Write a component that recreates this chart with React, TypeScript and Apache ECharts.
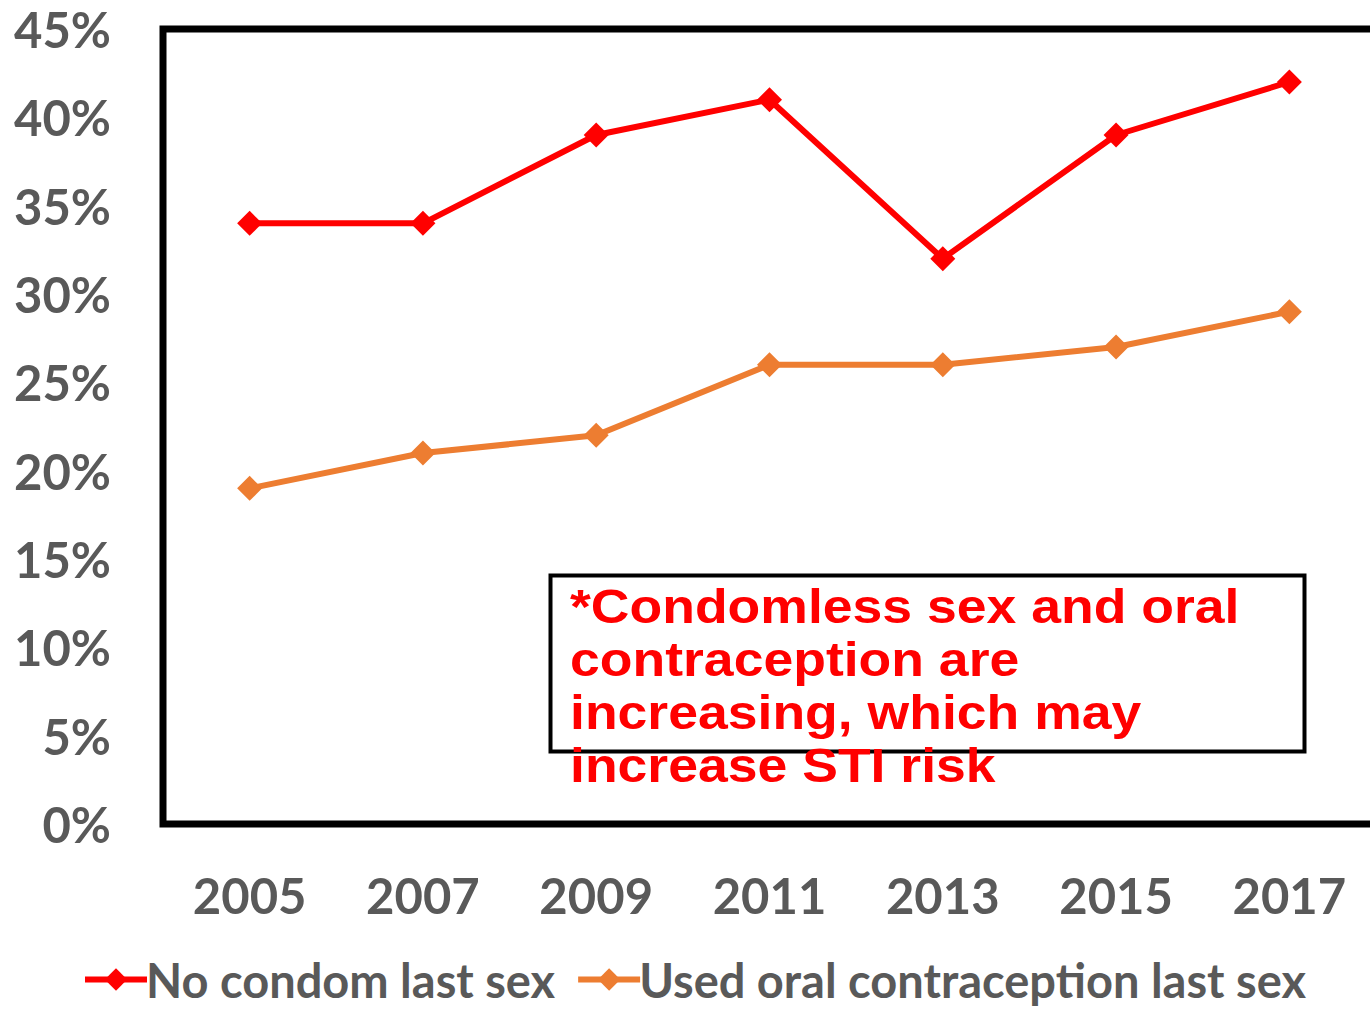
import React, { useEffect, useRef } from "react";
import * as echarts from "echarts";

const years = ["2005", "2007", "2009", "2011", "2013", "2015", "2017"];
const noCondom = [34, 34, 39, 41, 32, 39, 42];
const oralContraception = [19, 21, 22, 26, 26, 27, 29];
const seriesNames = ["No condom last sex", "Used oral contraception last sex"];
const noteLines = [
  "*Condomless sex and oral",
  "contraception are",
  "increasing, which may",
  "increase STI risk",
];

export default function App() {
  const ref = useRef<HTMLDivElement>(null);
  useEffect(() => {
    if (!ref.current) return;
    document.body.style.overflow = "hidden";
    const chart = echarts.init(ref.current, null, { renderer: "svg" });
    const labelColor = "#595959";
    chart.setOption({
      animation: false,
      backgroundColor: "#ffffff",
      grid: {
        left: 163,
        right: 4,
        top: 29,
        bottom: 185,
        show: true,
        borderColor: "#000000",
        borderWidth: 7,
        backgroundColor: "transparent",
      },
      xAxis: {
        type: "category",
        data: years,
        boundaryGap: true,
        axisLine: { show: true, lineStyle: { color: "#000000", width: 2 } },
        axisTick: { show: false },
        axisLabel: {
          color: labelColor,
          fontFamily: "Lato",
          fontWeight: "bold",
          fontSize: 49,
          margin: 46,
        },
      },
      yAxis: {
        type: "value",
        min: 0,
        max: 45,
        interval: 5,
        splitLine: { show: false },
        axisLine: { show: false },
        axisTick: { show: false },
        axisLabel: {
          color: labelColor,
          fontFamily: "Lato",
          fontWeight: "bold",
          fontSize: 49,
          margin: 52,
          formatter: (v: number) => v + "%",
        },
      },
      legend: {
        bottom: 6,
        left: 82,
        padding: 0,
        itemWidth: 62,
        itemHeight: 28,
        itemGap: 20,
        lineStyle: { width: 6 },
        textStyle: {
          color: labelColor,
          fontFamily: "Lato",
          fontWeight: "bold",
          fontSize: 47,
          lineHeight: 40,
          padding: [0, 0, 0, -6],
        },
        data: seriesNames,
      },
      series: [
        {
          name: seriesNames[0],
          type: "line",
          data: noCondom,
          symbol: "diamond",
          symbolSize: 25,
          lineStyle: { color: "#FF0000", width: 6 },
          itemStyle: { color: "#FF0000" },
        },
        {
          name: seriesNames[1],
          type: "line",
          data: oralContraception,
          symbol: "diamond",
          symbolSize: 25,
          lineStyle: { color: "#ED7D31", width: 6 },
          itemStyle: { color: "#ED7D31" },
        },
      ],
      graphic: [
        {
          type: "rect",
          shape: { x: 550.5, y: 575.5, width: 754, height: 176 },
          style: { fill: "#ffffff", stroke: "#000000", lineWidth: 4 },
          z: 100,
        },
        {
          type: "text",
          x: 570,
          y: 580,
          scaleX: 1.093,
          z: 101,
          style: {
            text: noteLines.join("\n"),
            fill: "#FF0000",
            font: 'bold 49px "Liberation Sans"',
            lineHeight: 53,
            textVerticalAlign: "top",
          },
        },
      ],
    });
    return () => chart.dispose();
  }, []);
  return (
    <div
      ref={ref}
      style={{ position: "fixed", left: 0, top: 0, width: 1380, height: 1009 }}
    />
  );
}
